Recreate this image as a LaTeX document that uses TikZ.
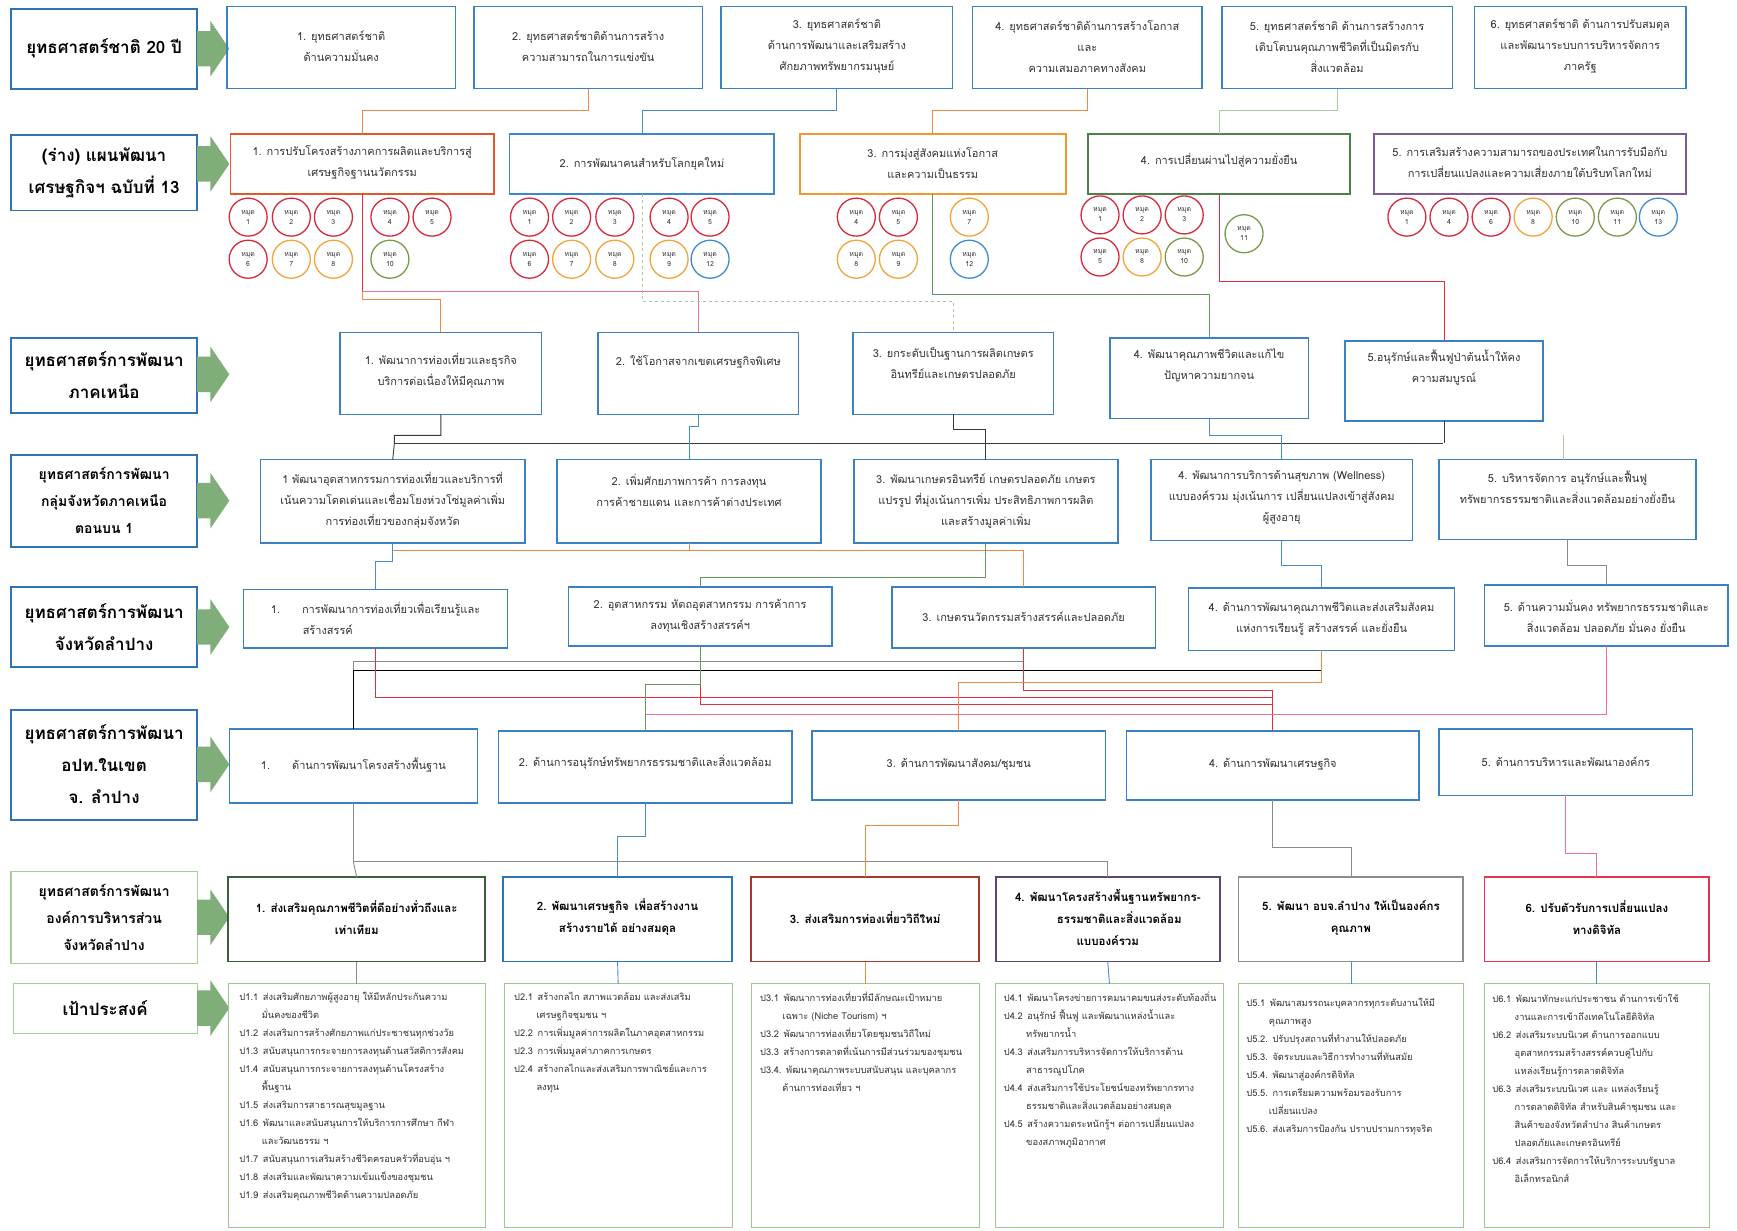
\documentclass[tikz,border=0pt]{standalone}
\usepackage{fontspec}
\setmainfont{Loma}[Script=Thai]
\usetikzlibrary{calc}
\definecolor{labblue}{HTML}{2F72B5}
\definecolor{boxblue}{HTML}{3A80C2}
\definecolor{arrgreen}{HTML}{7FAE78}
\definecolor{labgreen}{HTML}{A6CF98}
\definecolor{txtgray}{HTML}{333333}
\definecolor{cP1}{HTML}{E2582C}
\definecolor{cP2}{HTML}{3F86C8}
\definecolor{cP3}{HTML}{F2962E}
\definecolor{cP4}{HTML}{4F7F4C}
\definecolor{cP5}{HTML}{7D5B95}
\definecolor{mred}{HTML}{D8283C}
\definecolor{morange}{HTML}{F2A33A}
\definecolor{mgreen}{HTML}{7A9A48}
\definecolor{mblue}{HTML}{3D8BD4}
\definecolor{lorange}{HTML}{F08A40}
\definecolor{lblue}{HTML}{4A8CCB}
\definecolor{llgreen}{HTML}{A9C9A0}
\definecolor{lgreen}{HTML}{5E9A5A}
\definecolor{lred}{HTML}{E0303E}
\definecolor{lpink}{HTML}{F0708E}
\definecolor{ldark}{HTML}{3A3A3A}
\definecolor{lgray}{HTML}{8A8A8A}
\definecolor{lpurple}{HTML}{8060A0}
\definecolor{cO1}{HTML}{3C5F3C}
\definecolor{cO2}{HTML}{2E75B6}
\definecolor{cO3}{HTML}{A8382A}
\definecolor{cO4}{HTML}{5B4476}
\definecolor{cO5}{HTML}{8C8C8C}
\definecolor{cO6}{HTML}{E5334F}
\definecolor{tgreen}{HTML}{9CC78E}
\newcommand\mkbox[9]{%
  \node[#6, minimum width={(#4-#2)*1.1078pt}, minimum height={(#5-#3)*1.1078pt}] (#1) at ({(#2+#4)/2},{(#3+#5)/2}) {};
  \node[#7] (#1t) at ({(#2+#4)/2},#8) {#9};}
\newcommand\garrow[1]{%
  \fill[arrgreen] (178,#1-16) -- (190,#1-16) -- (190,#1-25) -- (207,#1) -- (190,#1+25) -- (190,#1+16) -- (178,#1+16) -- cycle;}
\newcommand\mud[5]{\node[mudc, draw=#4] (#1) at (#2,#3) {หมุด\\#5};}
\newcommand\ind{\hspace*{2.4em}}
\begin{document}
\begin{tikzpicture}[x=1.1078pt,y=-1.1078pt,
  lab/.style={draw=labblue, line width=1.8pt, rectangle, inner sep=0pt, outer sep=0pt},
  labg/.style={draw=labgreen, line width=1.3pt, rectangle, inner sep=0pt, outer sep=0pt},
  bx/.style={draw=boxblue, line width=1.5pt, rectangle, inner sep=0pt, outer sep=0pt},
  bxc/.style={draw=#1, line width=1.8pt, rectangle, inner sep=0pt, outer sep=0pt},
  tbx/.style={draw=tgreen, line width=1pt, rectangle, inner sep=0pt, outer sep=0pt},
  labt/.style={font=\bfseries\fontsize{17}{32}\selectfont, align=center, text=black},
  labts/.style={font=\bfseries\fontsize{14}{27}\selectfont, align=center, text=black},
  bt/.style={font=\fontsize{11}{21}\selectfont, align=center, text=txtgray},
  btl/.style={font=\fontsize{11}{21}\selectfont, align=left, text=txtgray},
  ot/.style={font=\bfseries\fontsize{11.5}{22}\selectfont, align=center, text=black},
  tt/.style={font=\fontsize{9.3}{18}\selectfont, align=left, text=txtgray, anchor=north west, inner sep=0pt},
  mudc/.style={circle, line width=1.3pt, minimum size=38pt, inner sep=0pt, font=\fontsize{7}{10}\selectfont, align=center, text=txtgray},
  cn/.style={line width=0.9pt},
]
\useasboundingbox (0,0) rectangle (1568,1111);
\fill[white] (0,0) rectangle (1568,1111);

% ---------- left labels ----------
\mkbox{L0}{10}{8}{178}{80}{lab}{labt}{44}{ยุทธศาสตร์ชาติ 20 ปี}
\mkbox{L1lab}{10}{122}{178}{190}{lab}{labt}{156}{(ร่าง) แผนพัฒนา\\เศรษฐกิจฯ ฉบับที่ 13}
\mkbox{L2lab}{10}{305}{178}{373}{lab}{labt}{339}{ยุทธศาสตร์การพัฒนา\\ภาคเหนือ}
\mkbox{L3lab}{10}{411}{178}{494}{lab}{labts}{452}{ยุทธศาสตร์การพัฒนา\\กลุ่มจังหวัดภาคเหนือ\\ตอนบน 1}
\mkbox{L4lab}{10}{530}{178}{602}{lab}{labt}{566}{ยุทธศาสตร์การพัฒนา\\จังหวัดลำปาง}
\mkbox{L5lab}{10}{641}{178}{740}{lab}{labt}{690}{ยุทธศาสตร์การพัฒนา\\อปท.ในเขต\\จ. ลำปาง}
\mkbox{L6lab}{10}{787}{178}{870}{labg}{labts}{828}{ยุทธศาสตร์การพัฒนา\\องค์การบริหารส่วน\\จังหวัดลำปาง}
\mkbox{L7lab}{12}{888}{178}{933}{labg}{labt}{910}{เป้าประสงค์}
\garrow{44}\garrow{148}\garrow{338}\garrow{452}\garrow{566}\garrow{690}\garrow{828}\garrow{910}

% ---------- row 1 ----------
\mkbox{B1}{205}{6}{411}{80}{bx}{bt}{42}{1. ยุทธศาสตร์ชาติ\\ด้านความมั่นคง}
\mkbox{B2}{428}{6}{634}{80}{bx}{bt}{42}{2. ยุทธศาสตร์ชาติด้านการสร้าง\\ความสามารถในการแข่งขัน}
\mkbox{B3}{651}{6}{860}{80}{bx}{bt}{42}{3. ยุทธศาสตร์ชาติ\\ด้านการพัฒนาและเสริมสร้าง\\ศักยภาพทรัพยากรมนุษย์}
\mkbox{B4}{878}{6}{1085}{80}{bx}{bt}{42}{4. ยุทธศาสตร์ชาติด้านการสร้างโอกาส\\และ\\ความเสมอภาคทางสังคม}
\mkbox{B5}{1103}{6}{1311}{80}{bx}{bt}{42}{5. ยุทธศาสตร์ชาติ ด้านการสร้างการ\\เติบโตบนคุณภาพชีวิตที่เป็นมิตรกับ\\สิ่งแวดล้อม}
\mkbox{B6}{1331}{6}{1522}{80}{bx}{bt}{42}{6. ยุทธศาสตร์ชาติ ด้านการปรับสมดุล\\และพัฒนาระบบการบริหารจัดการ\\ภาครัฐ}

% ---------- row 2 ----------
\mkbox{P1}{208}{121}{446}{175}{bxc=cP1}{bt}{147}{1. การปรับโครงสร้างภาคการผลิตและบริการสู่\\เศรษฐกิจฐานนวัตกรรม}
\mkbox{P2}{460}{121}{699}{175}{bxc=cP2}{bt}{148}{2. การพัฒนาคนสำหรับโลกยุคใหม่}
\mkbox{P3}{722}{121}{962}{175}{bxc=cP3}{bt}{147}{3. การมุ่งสู่สังคมแห่งโอกาส\\และความเป็นธรรม}
\mkbox{P4}{982}{121}{1219}{175}{bxc=cP4}{bt}{145}{4. การเปลี่ยนผ่านไปสู่ความยั่งยืน}
\mkbox{P5}{1240}{121}{1522}{175}{bxc=cP5}{bt}{146}{5. การเสริมสร้างความสามารถของประเทศในการรับมือกับ\\การเปลี่ยนแปลงและความเสี่ยงภายใต้บริบทโลกใหม่}

% circles
\mud{a1}{224}{196}{mred}{1}\mud{a2}{263}{196}{mred}{2}\mud{a3}{301}{196}{mred}{3}\mud{a4}{352}{196}{mred}{4}\mud{a5}{390}{196}{mred}{5}
\mud{a6}{224}{234}{mred}{6}\mud{a7}{263}{234}{morange}{7}\mud{a8}{301}{234}{morange}{8}\mud{a10}{352}{234}{mgreen}{10}
\mud{b1}{478}{196}{mred}{1}\mud{b2}{516}{196}{mred}{2}\mud{b3}{555}{196}{mred}{3}\mud{b4}{604}{196}{mred}{4}\mud{b5}{641}{196}{mred}{5}
\mud{b6}{478}{234}{mred}{6}\mud{b7}{516}{234}{morange}{7}\mud{b8}{555}{234}{morange}{8}\mud{b9}{604}{234}{morange}{9}\mud{b12}{641}{234}{mblue}{12}
\mud{c4}{773}{196}{mred}{4}\mud{c5}{811}{196}{mred}{5}\mud{c7}{875}{196}{morange}{7}
\mud{c8}{773}{234}{morange}{8}\mud{c9}{811}{234}{morange}{9}\mud{c12}{875}{234}{mblue}{12}
\mud{d1}{993}{194}{mred}{1}\mud{d2}{1031}{194}{mred}{2}\mud{d3}{1069}{194}{mred}{3}
\mud{d5}{993}{232}{mred}{5}\mud{d8}{1031}{232}{morange}{8}\mud{d10}{1069}{232}{mgreen}{10}\mud{d11}{1123}{211}{mgreen}{11}
\mud{e1}{1270}{196}{mred}{1}\mud{e4}{1308}{196}{mred}{4}\mud{e6}{1346}{196}{mred}{6}\mud{e8}{1384}{196}{morange}{8}
\mud{e10}{1422}{196}{mgreen}{10}\mud{e11}{1460}{196}{mgreen}{11}\mud{e13}{1497}{196}{mblue}{13}

% ---------- row 3 ----------
\mkbox{N1}{307}{300}{489}{374}{bx}{bt}{335}{1. พัฒนาการท่องเที่ยวและธุรกิจ\\บริการต่อเนื่องให้มีคุณภาพ}
\mkbox{N2}{540}{300}{721}{374}{bx}{bt}{327}{2. ใช้โอกาสจากเขตเศรษฐกิจพิเศษ}
\mkbox{N3}{770}{300}{951}{374}{bx}{bt}{328}{3. ยกระดับเป็นฐานการผลิตเกษตร\\อินทรีย์และเกษตรปลอดภัย}
\mkbox{N4}{1002}{305}{1181}{378}{bx}{bt}{330}{4. พัฒนาคุณภาพชีวิตและแก้ไข\\ปัญหาความยากจน}
\mkbox{N5}{1214}{308}{1393}{380}{bx}{bt}{332}{5.อนุรักษ์และฟื้นฟูป่าต้นน้ำให้คง\\ความสมบูรณ์}

% ---------- row 4 ----------
\mkbox{G1}{235}{415}{474}{490}{bx}{bt}{452}{1 พัฒนาอุตสาหกรรมการท่องเที่ยวและบริการที่\\เน้นความโดดเด่นและเชื่อมโยงห่วงโซ่มูลค่าเพิ่ม\\การท่องเที่ยวของกลุ่มจังหวัด}
\mkbox{G2}{503}{415}{741}{490}{bx}{bt}{443}{2. เพิ่มศักยภาพการค้า การลงทุน\\การค้าชายแดน และการค้าต่างประเทศ}
\mkbox{G3}{771}{415}{1009}{490}{bx}{bt}{452}{3. พัฒนาเกษตรอินทรีย์ เกษตรปลอดภัย เกษตร\\แปรรูป ที่มุ่งเน้นการเพิ่ม ประสิทธิภาพการผลิต\\และสร้างมูลค่าเพิ่ม}
\mkbox{G4}{1039}{415}{1275}{488}{bx}{bt}{449}{4. พัฒนาการบริการด้านสุขภาพ (Wellness)\\แบบองค์รวม มุ่งเน้นการ เปลี่ยนแปลงเข้าสู่สังคม\\ผู้สูงอายุ}
\mkbox{G5}{1299}{415}{1531}{487}{bx}{bt}{440}{5. บริหารจัดการ อนุรักษ์และฟื้นฟู\\ทรัพยากรธรรมชาติและสิ่งแวดล้อมอย่างยั่งยืน}

% ---------- row 5 ----------
\mkbox{LP1}{220}{532}{458}{585}{bx}{btl}{558}{1.\hspace{2em}การพัฒนาการท่องเที่ยวเพื่อเรียนรู้และ\\\hspace*{2.9em}สร้างสรรค์}
\mkbox{LP2}{513}{530}{751}{583}{bx}{bt}{556}{2. อุตสาหกรรม หัตถอุตสาหกรรม การค้าการ\\ลงทุนเชิงสร้างสรรค์ฯ}
\mkbox{LP3}{805}{530}{1043}{585}{bx}{bt}{557}{3. เกษตรนวัตกรรมสร้างสรรค์และปลอดภัย}
\mkbox{LP4}{1073}{531}{1313}{587}{bx}{bt}{559}{4. ด้านการพัฒนาคุณภาพชีวิตและส่งเสริมสังคม\\แห่งการเรียนรู้ สร้างสรรค์ และยั่งยืน}
\mkbox{LP5}{1340}{528}{1560}{583}{bx}{bt}{556}{5. ด้านความมั่นคง ทรัพยากรธรรมชาติและ\\สิ่งแวดล้อม ปลอดภัย มั่นคง ยั่งยืน}

% ---------- row 6 ----------
\mkbox{A1}{207}{658}{431}{725}{bx}{btl}{691}{1.\hspace{2em}ด้านการพัฒนาโครงสร้างพื้นฐาน}
\mkbox{A2}{450}{660}{715}{725}{bx}{bt}{688}{2. ด้านการอนุรักษ์ทรัพยากรธรรมชาติและสิ่งแวดล้อม}
\mkbox{A3}{733}{660}{998}{722}{bx}{bt}{690}{3. ด้านการพัฒนาสังคม/ชุมชน}
\mkbox{A4}{1017}{660}{1281}{722}{bx}{bt}{690}{4. ด้านการพัฒนาเศรษฐกิจ}
\mkbox{A5}{1299}{658}{1528}{718}{bx}{bt}{688}{5. ด้านการบริหารและพัฒนาองค์กร}

% ---------- row 7 ----------
\mkbox{O1}{206}{792}{438}{868}{bxc=cO1}{ot}{828}{1. ส่งเสริมคุณภาพชีวิตที่ดีอย่างทั่วถึงและ\\เท่าเทียม}
\mkbox{O2}{454}{792}{661}{868}{bxc=cO2}{ot}{828}{2. พัฒนาเศรษฐกิจ\enspace เพื่อสร้างงาน\\สร้างรายได้ อย่างสมดุล}
\mkbox{O3}{678}{792}{884}{868}{bxc=cO3}{ot}{828}{3. ส่งเสริมการท่องเที่ยววิถีใหม่}
\mkbox{O4}{899}{792}{1101}{868}{bxc=cO4}{ot}{828}{4. พัฒนาโครงสร้างพื้นฐานทรัพยากร-\\\hspace*{2em}ธรรมชาติและสิ่งแวดล้อม\\แบบองค์รวม}
\mkbox{O5}{1118}{792}{1321}{868}{bxc=cO5}{ot}{828}{5. พัฒนา อบจ.ลำปาง ให้เป็นองค์กร\\คุณภาพ}
\mkbox{O6}{1340}{792}{1543}{868}{bxc=cO6}{ot}{828}{6. ปรับตัวรับการเปลี่ยนแปลง\\ทางดิจิทัล}

% ---------- row 8 ----------
\node[tbx, minimum width={232*1.1078pt}, minimum height={220*1.1078pt}] (T1) at (322,998) {};
\node[tbx, minimum width={206*1.1078pt}, minimum height={220*1.1078pt}] (T2) at (558,998) {};
\node[tbx, minimum width={206*1.1078pt}, minimum height={220*1.1078pt}] (T3) at (781,998) {};
\node[tbx, minimum width={205*1.1078pt}, minimum height={220*1.1078pt}] (T4) at (1001.5,998) {};
\node[tbx, minimum width={203*1.1078pt}, minimum height={220*1.1078pt}] (T5) at (1219.5,998) {};
\node[tbx, minimum width={203*1.1078pt}, minimum height={220*1.1078pt}] (T6) at (1441.5,998) {};
\node[tt] (T1t) at (216,895) {ป1.1\enspace ส่งเสริมศักยภาพผู้สูงอายุ ให้มีหลักประกันความ\\\ind มั่นคงของชีวิต\\ป1.2\enspace ส่งเสริมการสร้างศักยภาพแก่ประชาชนทุกช่วงวัย\\ป1.3\enspace สนับสนุนการกระจายการลงทุนด้านสวัสดิการสังคม\\ป1.4\enspace สนับสนุนการกระจายการลงทุนด้านโครงสร้าง\\\ind พื้นฐาน\\ป1.5\enspace ส่งเสริมการสาธารณสุขมูลฐาน\\ป1.6\enspace พัฒนาและสนับสนุนการให้บริการการศึกษา กีฬา\\\ind และวัฒนธรรม ฯ\\ป1.7\enspace สนับสนุนการเสริมสร้างชีวิตครอบครัวที่อบอุ่น ฯ\\ป1.8\enspace ส่งเสริมและพัฒนาความเข้มแข็งของชุมชน\\ป1.9\enspace ส่งเสริมคุณภาพชีวิตด้านความปลอดภัย};
\node[tt] (T2t) at (464,895) {ป2.1\enspace สร้างกลไก สภาพแวดล้อม และส่งเสริม\\\ind เศรษฐกิจชุมชน ฯ\\ป2.2\enspace การเพิ่มมูลค่าการผลิตในภาคอุตสาหกรรม\\ป2.3\enspace การเพิ่มมูลค่าภาคการเกษตร\\ป2.4\enspace สร้างกลไกและส่งเสริมการพาณิชย์และการ\\\ind ลงทุน};
\node[tt] (T3t) at (686,895) {ป3.1\enspace พัฒนาการท่องเที่ยวที่มีลักษณะเป้าหมาย\\\ind เฉพาะ (Niche Tourism) ฯ\\ป3.2\enspace พัฒนาการท่องเที่ยวโดยชุมชนวิถีใหม่\\ป3.3\enspace สร้างการตลาดที่เน้นการมีส่วนร่วมของชุมชน\\ป3.4.\enspace พัฒนาคุณภาพระบบสนับสนุน และบุคลากร\\\ind ด้านการท่องเที่ยว ฯ};
\node[tt] (T4t) at (906,895) {ป4.1\enspace พัฒนาโครงข่ายการคมนาคมขนส่งระดับท้องถิ่น\\ป4.2\enspace อนุรักษ์ ฟื้นฟู และพัฒนาแหล่งน้ำและ\\\ind ทรัพยากรน้ำ\\ป4.3\enspace ส่งเสริมการบริหารจัดการให้บริการด้าน\\\ind สาธารณูปโภค\\ป4.4\enspace ส่งเสริมการใช้ประโยชน์ของทรัพยากรทาง\\\ind ธรรมชาติและสิ่งแวดล้อมอย่างสมดุล\\ป4.5\enspace สร้างความตระหนักรู้ฯ ต่อการเปลี่ยนแปลง\\\ind ของสภาพภูมิอากาศ};
\node[tt] (T5t) at (1125,901) {ป5.1\enspace พัฒนาสมรรถนะบุคลากรทุกระดับงานให้มี\\\ind คุณภาพสูง\\ป5.2.\enspace ปรับปรุงสถานที่ทำงานให้ปลอดภัย\\ป5.3.\enspace จัดระบบและวิธีการทำงานที่ทันสมัย\\ป5.4.\enspace พัฒนาสู่องค์กรดิจิทัล\\ป5.5.\enspace การเตรียมความพร้อมรองรับการ\\\ind เปลี่ยนแปลง\\ป5.6.\enspace ส่งเสริมการป้องกัน ปราบปรามการทุจริต};
\node[tt] (T6t) at (1347,897) {ป6.1\enspace พัฒนาทักษะแก่ประชาชน ด้านการเข้าใช้\\\ind งานและการเข้าถึงเทคโนโลยีดิจิทัล\\ป6.2\enspace ส่งเสริมระบบนิเวศ ด้านการออกแบบ\\\ind อุตสาหกรรมสร้างสรรค์ควบคู่ไปกับ\\\ind แหล่งเรียนรู้การตลาดดิจิทัล\\ป6.3\enspace ส่งเสริมระบบนิเวศ และ แหล่งเรียนรู้\\\ind การตลาดดิจิทัล สำหรับสินค้าชุมชน และ\\\ind สินค้าของจังหวัดลำปาง สินค้าเกษตร\\\ind ปลอดภัยและเกษตรอินทรีย์\\ป6.4\enspace ส่งเสริมการจัดการให้บริการระบบรัฐบาล\\\ind อิเล็กทรอนิกส์};

% ---------- connectors row1 -> row2 ----------
\draw[cn, lorange] (B2.south) -- (B2.south |- 0,100) -| (P1.north);
\draw[cn, lblue] (B3.south) -- (B3.south |- 0,100) -| (P2.north);
\draw[cn, lorange] (B4.south) -- (B4.south |- 0,100) -| (P3.north);
\draw[cn, llgreen] (B5.south) -- (B5.south |- 0,100) -| (P4.north);

% ---------- row2 -> row3 ----------
\draw[cn, lpink] (P1.south) -- (P1.south |- 0,263) -| (N2.north);
\draw[cn, lorange] (P1.south) -- (P1.south |- 0,270) -| (N1.north);
\draw[cn, lred] (P1.south) -- (P1.south |- 0,263);
\draw[cn, llgreen, dashed] (P2.south) -- (P2.south |- 0,272) -| (N3.north);
\draw[cn, lgreen] (P3.south) -- (P3.south |- 0,266) -| (N4.north);
\draw[cn, lred] (P4.south) -- (P4.south |- 0,254) -| (N5.north);

% ---------- row3 -> row4 ----------
\coordinate (bus3a) at (356,400);
\coordinate (bus3b) at (1303,400);
\draw[cn, ldark] (bus3a) -- (bus3b);
\draw[cn, ldark] (N1.south) -- (N1.south |- 0,393) -| (bus3a) -- (G1.north);
\draw[cn, ldark] (N3.south) -- (N3.south |- 0,388) -| (G3.north);
\draw[cn, ldark] (N5.south) -- (N5.south |- bus3b);
\draw[cn, lblue] (N2.south) -- (N2.south |- 0,385) -| (G2.north);
\draw[cn, lblue] (N4.south) -- (N4.south |- 0,393) -| (G4.north);
\coordinate (g5stub) at (1411,393);
\draw[cn, llgreen] (g5stub) -- (g5stub |- G5.north);

% ---------- row4 -> row5 ----------
\draw[cn, lorange] (G1.south) -- (G1.south |- 0,497) -| (LP3.north);
\draw[cn, lorange] (G2.south) -- (G2.south |- 0,497);
\draw[cn, lblue] (G1.south) -- (G1.south |- 0,507) -| (LP1.north);
\draw[cn, lgreen] (G3.south) -- (G3.south |- 0,521) -| (LP2.north);
\draw[cn, lblue] (G4.south) -- (G4.south |- 0,510) -| (LP4.north);
\draw[cn, lgray] (G5.south) -- (G5.south |- 0,510) -| (LP5.north);

% ---------- row5 -> row6 ----------
\draw[cn, lgray] (LP3.south) -- (LP3.south |- 0,597) -| (A1.north);
\draw[line width=1.2pt, black] (LP4.south) -- (LP4.south |- 0,605) -| (A1.north);
\draw[line width=1.2pt, black] (LP2.south) -- (LP2.south |- 0,605);
\draw[line width=1.2pt, black] (LP3.south) -- (LP3.south |- 0,605);
\draw[cn, lred] (LP1.south) -- (LP1.south |- 0,630) -| (A4.north);
\draw[cn, lred] (LP3.south) -- (LP3.south |- 0,623) -| (A4.north);
\draw[cn, lred] (LP2.south) -- (LP2.south |- 0,636) -| (A4.north);
\draw[cn, lpink] (LP5.south) -- (LP5.south |- 0,645) -| (A2.north);
\draw[cn, lgreen] (LP2.south) -- (LP2.south |- 0,618) -| (A2.north);
\draw[cn, lorange] (LP4.south) -- (LP4.south |- 0,616) -| (A3.north);

% ---------- row6 -> row7 ----------
\draw[cn, lgray] (A1.south) -- (A1.south |- 0,778) -| (O4.north);
\draw[cn, lgray] (A1.south |- 0,778) -- (O1.north);
\draw[cn, lblue] (A2.south) -- (A2.south |- 0,755) -| (O2.north);
\draw[cn, lorange] (A3.south) -- (A3.south |- 0,745) -| (O3.north);
\draw[cn, lgray] (A4.south) -- (A4.south |- 0,765) -| (O5.north);
\draw[cn, lpink] (A5.south) -- (A5.south |- 0,770) -| (O6.north);

% ---------- row7 -> row8 ----------
\draw[cn, lgray] (O1.south) -- (T1.north);
\draw[cn, lblue] (O2.south) -- (T2.north);
\draw[cn, lorange] (O3.south) -- (T3.north);
\draw[cn, lblue] (O4.south) -- (T4.north);
\draw[cn, lblue] (O5.south) -- (T5.north);
\draw[cn, lblue] (O6.south) -- (T6.north);
\end{tikzpicture}
\end{document}
